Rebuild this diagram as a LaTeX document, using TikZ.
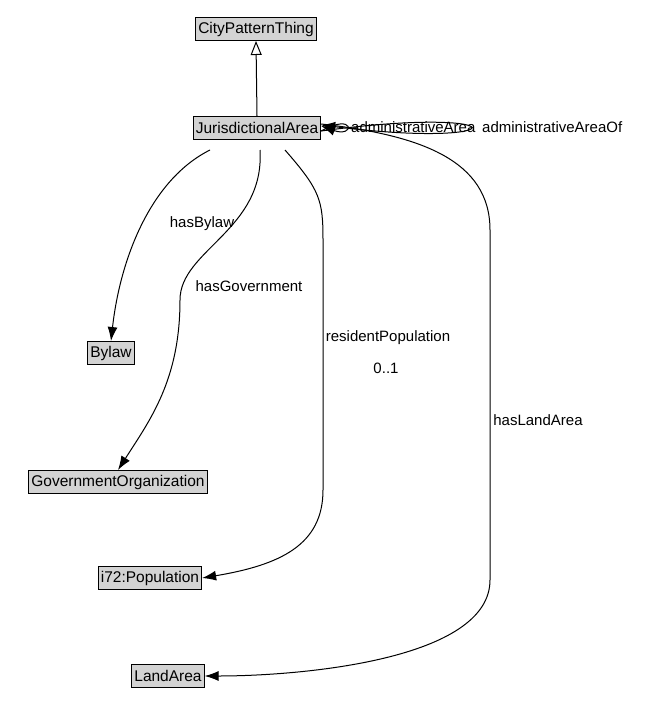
\documentclass[tikz,border=0pt]{standalone}
\usepackage{fontspec}
\setmainfont{Liberation Sans}
\usetikzlibrary{arrows.meta}
\definecolor{boxgray}{RGB}{211,211,211}
\tikzset{
  cls/.style={draw,fill=boxgray,inner sep=2.5pt,minimum height=23pt,line width=1pt,font=\fontsize{15.5}{18}\selectfont},
  rel/.style={-{Latex[length=14pt,width=10pt]},line width=1pt},
  lbl/.style={font=\fontsize{15}{18}\selectfont,fill=white,inner sep=1pt}
}
\begin{document}
\begin{tikzpicture}[x=1pt,y=-1pt]
  \useasboundingbox (0,0) rectangle (652,728);
  \node[cls] (thing) at (256,29) {CityPatternThing};
  \node[cls] (area) at (257,128) {JurisdictionalArea};
  \node[cls] (bylaw) at (111,353) {Bylaw};
  \node[cls] (gov) at (118,482) {GovernmentOrganization};
  \node[cls] (pop) at (150,578) {i72:Population};
  \node[cls] (land) at (168,676) {LandArea};
  % subclass
  \draw[line width=1pt,-{Triangle[open,length=14pt,width=11pt]}] (area.north) -- (thing.south);
  % self relations
  \draw[rel] ([yshift=-3pt]area.east) coordinate (s1) .. controls (355,112) and (355,138) .. ([yshift=2pt]area.east);
  \draw[rel] (s1) .. controls (520,104) and (520,150) .. ([yshift=3pt]area.east);
  \node[lbl,anchor=west,fill=none] (l1) at (350,127) {administrativeArea};
  \node[lbl,anchor=west,fill=none] (l2) at (481,127) {administrativeAreaOf};
  % relations
  \draw[rel] (210,150) .. controls (150,180) and (120,260) .. (bylaw.north);
  \node[lbl,fill=none] (hb) at (202,224) {hasBylaw};
  \draw[rel] (260,150) .. controls (265,230) and (180,250) .. (180,300)
     .. controls (180,380) and (150,420) .. (gov.north);
  \node[lbl] (hg) at (249,286) {hasGovernment};
  \draw[rel] (285,150) .. controls (320,190) and (323,200) .. (323,240)
     -- (323,490) .. controls (323,545) and (280,565) .. (pop.east);
  \node[lbl] (rp) at (388,338) {residentPopulation};
  \node[lbl] (mult) at (386,368) {0..1};
  \draw[rel] ([yshift=4pt]area.east) .. controls (420,135) and (490,160) .. (490,230)
     -- (490,580) .. controls (490,660) and (300,676) .. (land.east);
  \node[lbl,fill=none] (hl) at (538,420) {hasLandArea};
\end{tikzpicture}
\end{document}
